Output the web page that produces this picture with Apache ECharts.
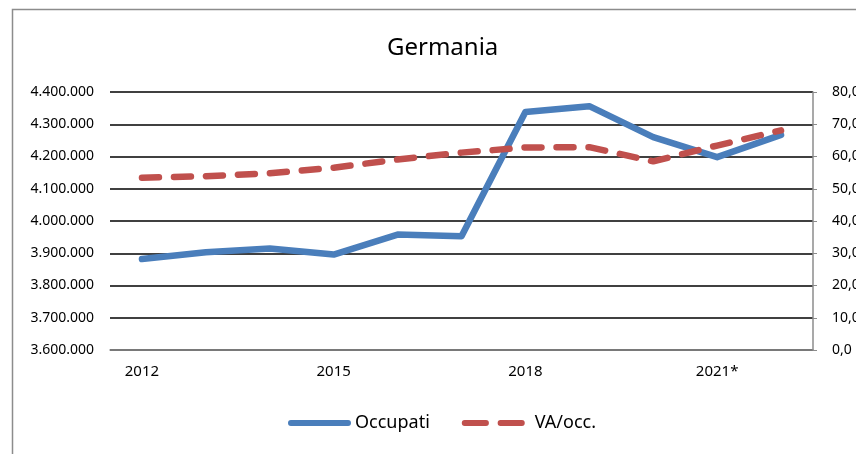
<!DOCTYPE html>
<html>
<head>
<meta charset="utf-8">
<script src="https://cdn.jsdelivr.net/npm/echarts@6/dist/echarts.min.js"></script>
<style>
  html, body { margin: 0; padding: 0; background: #fff; }
  #chart { width: 856px; height: 454px; }
</style>
</head>
<body>
<div id="chart"></div>
<script>
const years = ['2012', '2013', '2014', '2015', '2016', '2017', '2018', '2019', '2020', '2021*', '2022*']
const occupati = [3882000, 3903000, 3915000, 3896000, 3958000, 3953000, 4338000, 4356000, 4260000, 4198000, 4267000]
const vaOcc = [53.4, 53.9, 54.8, 56.5, 59.1, 61.2, 62.8, 62.9, 58.5, 63.4, 68.1]

const font = 'Noto Sans'
const fmtLeft = v => String(v).replace(/\B(?=(\d{3})+(?!\d))/g, '.')
const fmtRight = v => v.toFixed(1).replace('.', ',')

// legend icons: solid rounded bar and two rounded dashes
const iconSolid = 'path://M3,0 H62 A3,3 0 0 1 62,6 H3 A3,3 0 0 1 3,0 Z'
const iconDash = 'path://M3,0 H25 A3,3 0 0 1 25,6 H3 A3,3 0 0 1 3,0 Z M40,0 H62 A3,3 0 0 1 62,6 H40 A3,3 0 0 1 40,0 Z'

const chart = echarts.init(document.getElementById('chart'))
chart.setOption({
  animation: false,
  backgroundColor: '#fff',
  textStyle: { fontFamily: font },
  graphic: [{
    type: 'rect',
    shape: { x: 12.5, y: 9.5, width: 1000, height: 600 },
    style: { fill: 'none', stroke: '#8c8c8c', lineWidth: 1.5 },
    silent: true
  }],
  title: {
    text: 'Germania',
    left: 382,
    top: 31,
    textStyle: { fontFamily: font, fontSize: 24, fontWeight: 'normal', color: '#000' }
  },
  legend: {
    left: 283,
    top: 409,
    itemWidth: 63,
    itemHeight: 6,
    itemGap: 32,
    textStyle: { fontFamily: font, fontSize: 18, color: '#000', padding: [0, 0, 0, -1] },
    data: [
      { name: 'Occupati', icon: iconSolid, itemStyle: { color: '#4a7ebb' } },
      { name: 'VA/occ.', icon: iconDash, itemStyle: { color: '#c0504d' },
        textStyle: { fontFamily: font, fontSize: 18, color: '#000', padding: [0, 0, 0, 5] } }
    ]
  },
  grid: { left: 110, right: 43, top: 92, bottom: 104, containLabel: false, outerBoundsMode: 'none' },
  xAxis: {
    type: 'category',
    data: years,
    boundaryGap: true,
    axisLine: { lineStyle: { color: '#8c8c8c', width: 1.5 } },
    axisTick: { show: false },
    axisLabel: { interval: 2, margin: 14, fontFamily: font, fontSize: 15, color: '#000' }
  },
  yAxis: [{
    type: 'value',
    min: 3600000,
    max: 4400000,
    interval: 100000,
    axisLine: { show: false },
    axisTick: { show: false },
    splitLine: { lineStyle: { color: '#000', width: 1.5 } },
    axisLabel: { margin: 16, fontFamily: font, fontSize: 14, color: '#000', formatter: fmtLeft }
  }, {
    type: 'value',
    min: 0,
    max: 80,
    interval: 10,
    position: 'right',
    axisLine: { show: true, lineStyle: { color: '#8c8c8c', width: 1.5 } },
    axisTick: { show: true, length: 4, lineStyle: { color: '#8c8c8c' } },
    splitLine: { show: false },
    axisLabel: { margin: 19, fontFamily: font, fontSize: 14, color: '#000', formatter: fmtRight }
  }],
  series: [{
    name: 'Occupati',
    type: 'line',
    yAxisIndex: 0,
    data: occupati,
    symbol: 'none',
    color: '#4a7ebb',
    lineStyle: { width: 6.5, color: '#4a7ebb', cap: 'round', join: 'round' }
  }, {
    name: 'VA/occ.',
    type: 'line',
    yAxisIndex: 1,
    data: vaOcc,
    symbol: 'none',
    color: '#c0504d',
    lineStyle: { width: 6.5, color: '#c0504d', type: [17, 15], cap: 'round', join: 'round' }
  }]
})
</script>
</body>
</html>
